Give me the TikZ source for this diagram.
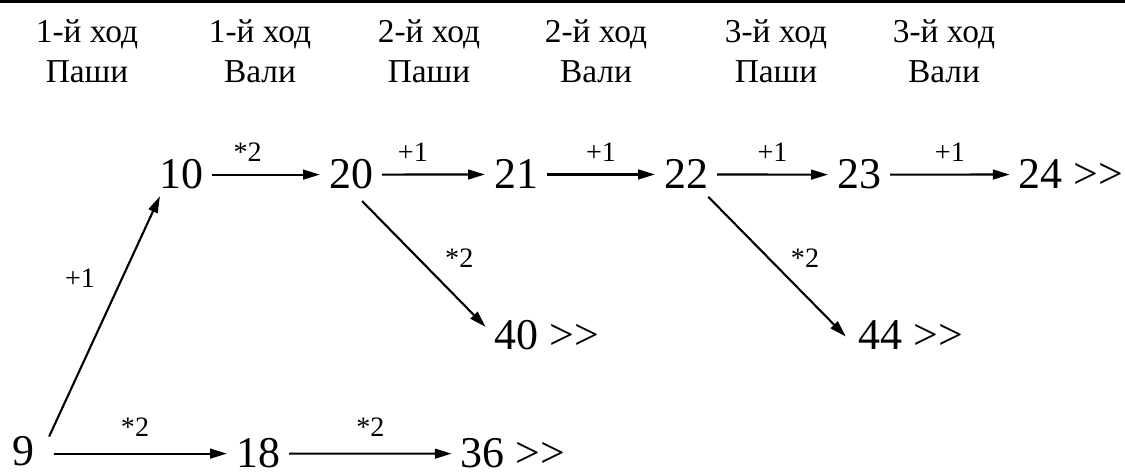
\documentclass[tikz,border=0pt]{standalone}
\usepackage{fontspec}
\setmainfont{Liberation Serif}
\usetikzlibrary{arrows.meta}

\newcommand\gtgt{>\kern0pt>}

\tikzset{
  num/.style={anchor=base, inner xsep=5pt, inner ysep=0pt, font=\fontsize{25}{30}\selectfont},
  head/.style={anchor=base, align=center, inner sep=0pt, font=\fontsize{19}{23}\selectfont},
  op/.style={font=\fontsize{16}{19}\selectfont},
  move/.style={-{Triangle[length=9.5pt,width=5.5pt]}, line width=1.2pt},
}

\begin{document}
\begin{tikzpicture}[x=0.02cm, y=-0.02cm]
  \useasboundingbox (0,0) rectangle (1125,475);
  \fill (0,0) rectangle (1125,3.5);

  % who moves (base = last line)
  \node[head] (h1) at (87,83) {1-й ход\\Паши};
  \node[head] (h2) at (260,83) {1-й ход\\Вали};
  \node[head] (h3) at (429,83) {2-й ход\\Паши};
  \node[head] (h4) at (596,83) {2-й ход\\Вали};
  \node[head] (h5) at (776,83) {3-й ход\\Паши};
  \node[head] (h6) at (944,83) {3-й ход\\Вали};

  % positions
  \node[num] (n9) at (23,466) {9};
  \node[num] (n10) at (181,189) {10};
  \node[num] (n20) at (351,189) {20};
  \node[num] (n21) at (516,189) {21};
  \node[num] (n22) at (686,189) {22};
  \node[num] (n23) at (859,189) {23};
  \node[num] (n24) at (1071,189) {24 \gtgt};
  \node[num] (n40) at (547,350) {40 \gtgt};
  \node[num] (n44) at (911,350) {44 \gtgt};
  \node[num] (n18) at (258,468) {18};
  \node[num] (n36) at (513,468) {36 \gtgt};

  % moves
  \draw[move, shorten >=4pt] ([xshift=0.12cm]n9.north east) -- (n10.-140)
    node[op, pos=0.64, left=0.4cm] {+1};
  \draw[move] (n10) -- (n20) node[op, pos=0.33, above=0.13cm] {*2};
  \draw[move] (n20) -- (n21) node[op, pos=0.3, above=0.13cm] {+1};
  \draw[move] (n21) -- (n22) node[op, midway, above=0.13cm] {+1};
  \draw[move] (n22) -- (n23) node[op, midway, above=0.13cm] {+1};
  \draw[move] (n23) -- (n24) node[op, midway, above=0.13cm] {+1};
  \draw[move, shorten <=9pt] (n20.south) -- (n40.172)
    node[op, pos=0.5, right=0.4cm] {*2};
  \draw[move, shorten <=6pt, shorten >=11pt] (n22.-45) -- (n44.-164)
    node[op, pos=0.43, right=0.3cm] {*2};
  \draw[move, shorten <=6pt] (n9.east |- n18) -- (n18) node[op, midway, above=0.2cm] {*2};
  \draw[move] (n18) -- (n36) node[op, midway, above=0.2cm] {*2};
\end{tikzpicture}
\end{document}
